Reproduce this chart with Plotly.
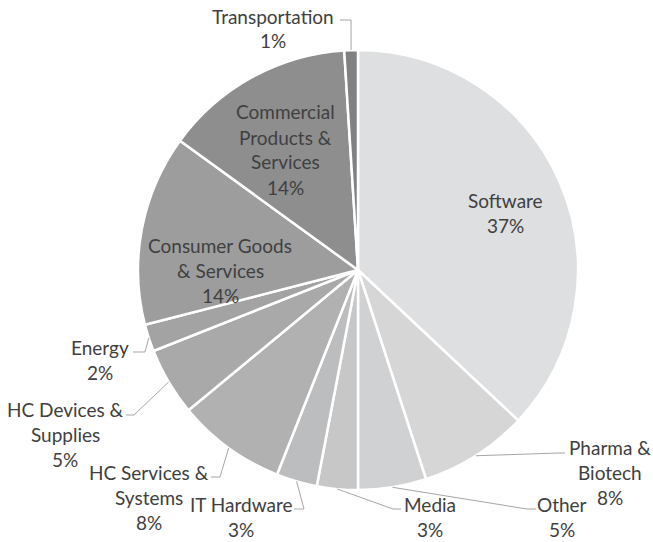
import math
import plotly.graph_objects as go

# Portfolio by sector (share of total, %), clockwise from 12 o'clock
sectors = [
    "Software", "Pharma & Biotech", "Other", "Media", "IT Hardware",
    "HC Services & Systems", "HC Devices & Supplies", "Energy",
    "Consumer Goods & Services", "Commercial Products & Services",
    "Transportation",
]
shares = [37, 8, 5, 3, 3, 8, 5, 2, 14, 14, 1]

# How each sector name is wrapped in its label
label_lines = [
    ["Software"], ["Pharma &", "Biotech"], ["Other"], ["Media"], ["IT Hardware"],
    ["HC Services &", "Systems"], ["HC Devices &", "Supplies"], ["Energy"],
    ["Consumer Goods", "& Services"], ["Commercial", "Products &", "Services"],
    ["Transportation"],
]

slice_colors = [
    "#dedfe0", "#d6d6d7", "#d0d1d2", "#c7c7c8", "#bcbdbf",
    "#b1b1b2", "#a9a9aa", "#a3a3a4", "#9d9d9e", "#8e8e8f", "#818182",
]

W, H = 653, 542
CX, CY, R = 358, 270, 220          # pie centre and radius in pixels
LINE_H = 25                        # label line spacing in pixels
TEXT_COLOR = "#404040"
LEADER_COLOR = "#a6a6a6"

# label block: centre x, first line y, leader (end at label, knee) or None
label_layout = {
    "Software": (505, 200, None),
    "Pharma & Biotech": (610, 447, ((565, 453), (559, 453))),
    "Other": (562, 504, ((536, 509), (527, 509))),
    "Media": (430, 504, ((401, 509), (393, 509))),
    "IT Hardware": (241, 504, ((294, 509), (304, 509))),
    "HC Services & Systems": (149, 472, ((211, 477), (220, 477))),
    "HC Devices & Supplies": (65, 409, ((126, 415), (134, 415))),
    "Energy": (100, 347, ((133, 352), (145, 352))),
    "Consumer Goods & Services": (220, 245, None),
    "Commercial Products & Services": (285, 112, None),
    "Transportation": (273, 16, ((340, 20), (351, 20))),
}


def px(x):
    return x / W


def py(y):
    return 1 - y / H


fig = go.Figure(
    go.Pie(
        labels=sectors,
        values=shares,
        sort=False,
        direction="clockwise",
        rotation=0,
        textinfo="none",
        hoverinfo="label+percent",
        showlegend=False,
        marker=dict(colors=slice_colors, line=dict(color="white", width=2.5)),
        domain=dict(x=[px(CX - R), px(CX + R)], y=[py(CY + R), py(CY - R)]),
    )
)

annotations = []
shapes = []
total = sum(shares)
cum = 0
for name, val, lines in zip(sectors, shares, label_lines):
    mid = (cum + val / 2) / total * 2 * math.pi
    cum += val
    bx, by, leader = label_layout[name]
    text_lines = lines + [f"{round(val / total * 100)}%"]
    for i, t in enumerate(text_lines):
        annotations.append(dict(
            x=px(bx), y=py(by + i * LINE_H), xref="paper", yref="paper",
            text=t, showarrow=False, xanchor="center", yanchor="middle",
            font=dict(family="Lato", size=19, color=TEXT_COLOR),
        ))
    if leader:
        (ex, ey), (kx, ky) = leader
        sx = CX + R * math.sin(mid)
        sy = CY - R * math.cos(mid)
        path = (f"M {px(ex)} {py(ey)} L {px(kx)} {py(ky)} "
                f"L {px(sx)} {py(sy)}")
        shapes.append(dict(type="path", path=path, xref="paper", yref="paper",
                           line=dict(color=LEADER_COLOR, width=1)))

fig.update_layout(
    width=W, height=H,
    margin=dict(l=0, r=0, t=0, b=0),
    paper_bgcolor="white",
    plot_bgcolor="white",
    annotations=annotations,
    shapes=shapes,
)

fig.write_html("out.html")
